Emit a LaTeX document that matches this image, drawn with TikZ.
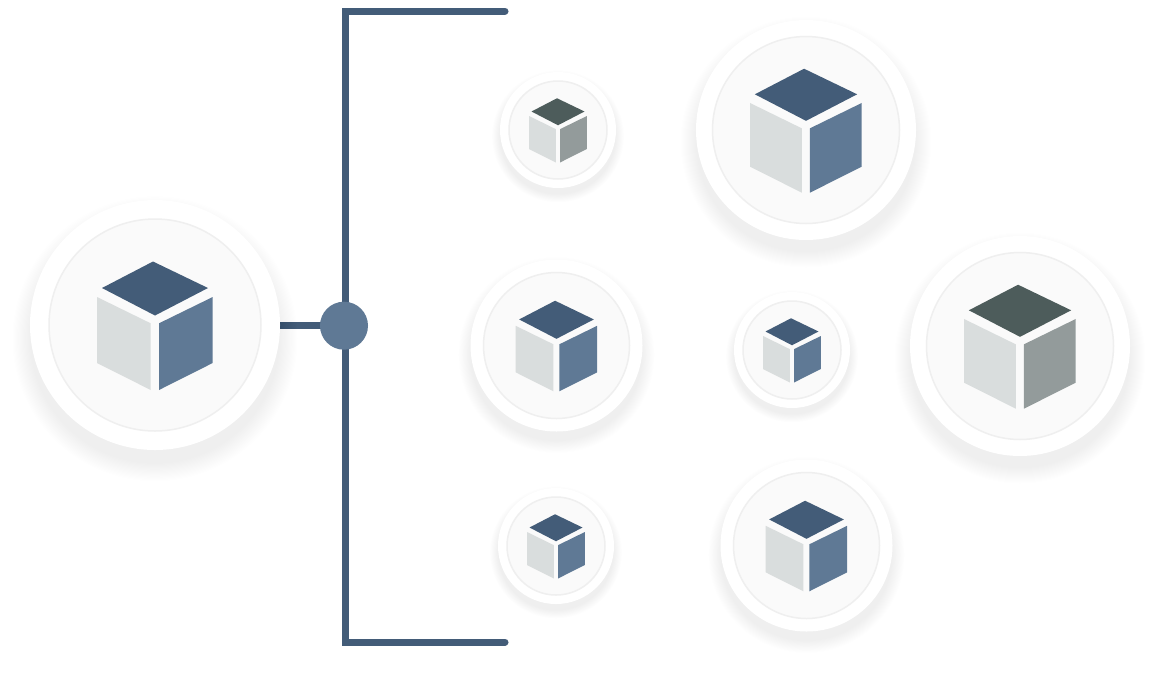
\documentclass[tikz,border=0pt]{standalone}
\usetikzlibrary{positioning,backgrounds}
\definecolor{trunkblue}{HTML}{435C78}
\definecolor{hubblue}{HTML}{5F7995}
\definecolor{facelight}{HTML}{D9DDDD}
\definecolor{topslate}{HTML}{4D5C5B}
\definecolor{sidegray}{HTML}{939B9B}
\definecolor{dishfill}{HTML}{FAFAFA}
\definecolor{dishline}{HTML}{EFEFEF}
\tikzset{
  trunk/.style={draw=trunkblue,line width=7pt},
  plate/.style={circle,fill=white,inner sep=0pt},
  dish/.style={circle,fill=dishfill,draw=dishline,line width=1.5pt,inner sep=0pt},
  hub/.style={circle,fill=hubblue,inner sep=0pt,minimum size=48pt},
}
% name, x, y, outer radius, inner radius, cube scale, top colour, side colour
\newcommand{\bubble}[8]{
  \foreach \k in {0,...,15}{
    \pgfmathsetmacro{\shadowr}{#4*(1+0.14*(1-\k/15))}
    \fill[black,opacity=0.0026] (#2,#3+0.11*#4) circle (\shadowr pt);
  }
  \node[plate,minimum size=2*#4 pt] (#1) at (#2,#3) {};
  \node[dish,minimum size=2*#5 pt] (#1dish) at (#1) {};
  \begin{scope}[shift={(#2,#3)},scale=#6]
    \fill[#7] (-2,-63.5)--(53,-37)--(0,-9.5)--(-53,-37)--cycle;
    \fill[facelight] (-58,-28)--(-4.3,-1.7)--(-4.3,65)--(-58,38)--cycle;
    \fill[#8] (4,-1.7)--(57.7,-28)--(57.7,38)--(4,65)--cycle;
  \end{scope}
}
\begin{document}
\begin{tikzpicture}[x=1pt,y=-1pt]
 \useasboundingbox (0,0) rectangle (1161,673);
 \bubble{root}{155}{325}{125}{106}{1}{trunkblue}{hubblue}
 \bubble{smalla}{558}{130}{58}{49}{0.5}{topslate}{sidegray}
 \bubble{biga}{806}{130}{110}{93.5}{0.965}{trunkblue}{hubblue}
 \bubble{mida}{556.5}{345.5}{86}{73}{0.705}{trunkblue}{hubblue}
 \bubble{smallb}{792}{350}{58}{49}{0.5}{trunkblue}{hubblue}
 \bubble{bigb}{1020}{346}{110}{93.5}{0.965}{topslate}{sidegray}
 \bubble{smallc}{556}{546}{58}{49}{0.5}{trunkblue}{hubblue}
 \bubble{midb}{806.5}{545.5}{86}{73}{0.705}{trunkblue}{hubblue}
 \coordinate (topend) at (505,11);
 \coordinate (topcorner) at (345,11);
 \coordinate (lowcorner) at (345,642);
 \coordinate (lowend) at (505,642);
 \node[hub] (junction) at (344,325.7) {};
 \begin{scope}[on background layer]
  \fill[white] (0,0) rectangle (1161,673);
  \draw[trunk,line cap=round] (topend)--(topcorner)--(lowcorner)--(lowend);
  \draw[trunk] (root.east)--(root.east -| junction);
 \end{scope}
\end{tikzpicture}
\end{document}
